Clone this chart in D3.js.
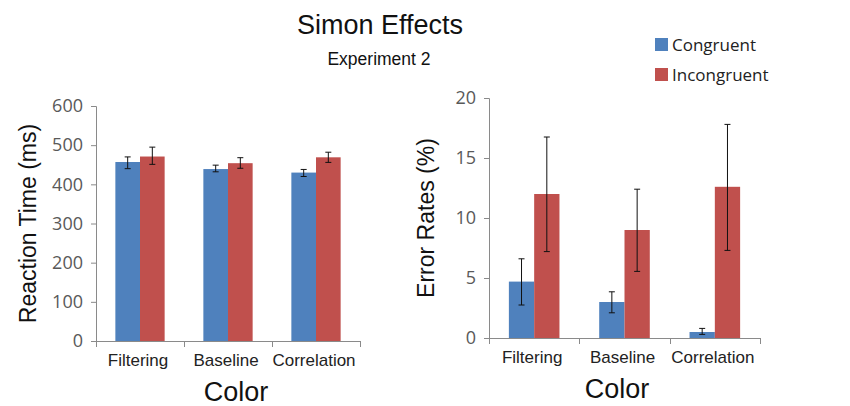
<!DOCTYPE html>
<html>
<head>
<meta charset="utf-8">
<script src="https://cdn.jsdelivr.net/npm/d3@7"></script>
<style>
  body { margin: 0; background: #fff; }
  svg { display: block; font-family: "Liberation Sans", Arial, sans-serif; }
  .axis path, .axis line { stroke: #8a8a8a; }
  .axis text { fill: #595959; }
</style>
</head>
<body>
<div id="chart"></div>
<script>
// categories and series
var categories = ["Filtering", "Baseline", "Correlation"];
var series = ["Congruent", "Incongruent"];
var colors = ["#4f81bd", "#c0504d"];

// reaction time (ms), mean and error bar ends
var rtCongruent = [457, 439, 430];
var rtCongruentLo = [440, 432, 420];
var rtCongruentHi = [470, 449, 438];
var rtIncongruent = [471, 454, 469];
var rtIncongruentLo = [451, 441, 456];
var rtIncongruentHi = [495, 468, 482];
var rtTicks = [0, 100, 200, 300, 400, 500, 600];

// error rates (%)
var erCongruent = [4.7, 3.0, 0.5];
var erCongruentLo = [2.75, 2.1, 0.3];
var erCongruentHi = [6.6, 3.85, 0.8];
var erIncongruent = [12.0, 9.0, 12.6];
var erIncongruentLo = [7.2, 5.55, 7.3];
var erIncongruentHi = [16.75, 12.4, 17.8];
var erTicks = [0, 5, 10, 15, 20];

var svg = d3.select("#chart").append("svg")
    .attr("width", 850)
    .attr("height", 406);

// title
svg.append("text").attr("x", 380).attr("y", 34)
    .attr("text-anchor", "middle").style("font-size", "27px").attr("fill", "#111")
    .text("Simon Effects");
svg.append("text").attr("x", 379).attr("y", 65)
    .attr("text-anchor", "middle").style("font-size", "17.5px").attr("fill", "#111")
    .text("Experiment 2");

// legend
var legend = svg.append("g").attr("transform", "translate(655,38)");
series.forEach(function(s, i) {
    legend.append("rect").attr("x", 0).attr("y", i * 30).attr("width", 13).attr("height", 13)
        .attr("fill", colors[i]);
    legend.append("text").attr("x", 17).attr("y", i * 30 + 13)
        .style("font-family", "'Open Sans', sans-serif").style("font-size", "17px").attr("fill", "#222")
        .text(s);
});

function drawPanel(opt) {
    var rows = categories.map(function(c, i) {
        return {
            cat: c,
            vals: [
                {k: 0, v: opt.c[i], lo: opt.cLo[i], hi: opt.cHi[i]},
                {k: 1, v: opt.inc[i], lo: opt.incLo[i], hi: opt.incHi[i]}
            ]
        };
    });

    var x = d3.scaleBand().domain(categories).range([opt.left, opt.right]).paddingInner(0.44).paddingOuter(0.22);
    var x1 = d3.scaleBand().domain([0, 1]).range([0, x.bandwidth()]);
    var y = d3.scaleLinear().domain([0, opt.max]).range([opt.bottom, opt.top]);

    var g = svg.append("g");

    // bars
    var grp = g.selectAll(".grp").data(rows).enter().append("g")
        .attr("transform", function(d) { return "translate(" + x(d.cat) + ",0)"; });
    grp.selectAll("rect").data(function(d) { return d.vals; }).enter().append("rect")
        .attr("x", function(d) { return x1(d.k); })
        .attr("y", function(d) { return y(d.v); })
        .attr("width", x1.bandwidth())
        .attr("height", function(d) { return y(0) - y(d.v); })
        .attr("fill", function(d) { return colors[d.k]; });

    // error bars
    var eb = grp.selectAll(".eb").data(function(d) { return d.vals; }).enter().append("g")
        .attr("stroke", "#111").attr("stroke-width", 1);
    var cx = function(d) { return x1(d.k) + x1.bandwidth() / 2; };
    eb.append("line").attr("x1", cx).attr("x2", cx)
        .attr("y1", function(d) { return y(d.lo); }).attr("y2", function(d) { return y(d.hi); });
    eb.append("line").attr("x1", function(d) { return cx(d) - 3; }).attr("x2", function(d) { return cx(d) + 3; })
        .attr("y1", function(d) { return y(d.lo); }).attr("y2", function(d) { return y(d.lo); });
    eb.append("line").attr("x1", function(d) { return cx(d) - 3; }).attr("x2", function(d) { return cx(d) + 3; })
        .attr("y1", function(d) { return y(d.hi); }).attr("y2", function(d) { return y(d.hi); });

    // y axis
    var ya = g.append("g").attr("class", "axis")
        .attr("transform", "translate(" + opt.left + ",0)")
        .call(d3.axisLeft(y).tickValues(opt.ticks).tickSize(5).tickPadding(8));
    ya.selectAll("text").style("font-size", "18px").style("font-family", "'Open Sans', sans-serif");

    // x axis with ticks between categories
    var step = x.step();
    var xa = g.append("g").attr("class", "axis");
    xa.append("line").attr("x1", opt.left).attr("x2", opt.right)
        .attr("y1", y(0) + 0.5).attr("y2", y(0) + 0.5);
    var seps = [opt.left].concat(categories.map(function(c) { return x(c) + x.bandwidth() + (step - x.bandwidth()) / 2; }));
    xa.selectAll(".sep").data(seps).enter().append("line")
        .attr("x1", function(d) { return Math.round(d) + 0.5; }).attr("x2", function(d) { return Math.round(d) + 0.5; })
        .attr("y1", y(0)).attr("y2", y(0) + 6);
    g.selectAll(".cat").data(categories).enter().append("text")
        .attr("x", function(d) { return x(d) + x.bandwidth() / 2 - 2; })
        .attr("y", y(0) + 25)
        .attr("text-anchor", "middle").style("font-size", "17px").attr("fill", "#222")
        .text(function(d) { return d; });

    // axis titles
    g.append("text").attr("x", opt.colorX).attr("y", opt.bottom + 60)
        .attr("text-anchor", "middle").style("font-size", "27px").attr("fill", "#111")
        .text("Color");
    g.append("text")
        .attr("transform", "translate(" + opt.titleX + "," + ((opt.top + opt.bottom) / 2) + ") rotate(-90)")
        .attr("text-anchor", "middle").style("font-size", "23px").attr("fill", "#111")
        .text(opt.yTitle);
}

drawPanel({
    left: 96, right: 360, top: 106, bottom: 341, max: 600, ticks: rtTicks,
    c: rtCongruent, cLo: rtCongruentLo, cHi: rtCongruentHi,
    inc: rtIncongruent, incLo: rtIncongruentLo, incHi: rtIncongruentHi,
    yTitle: "Reaction Time (ms)", titleX: 36, colorX: 236
});

drawPanel({
    left: 489, right: 760, top: 98, bottom: 338, max: 20, ticks: erTicks,
    c: erCongruent, cLo: erCongruentLo, cHi: erCongruentHi,
    inc: erIncongruent, incLo: erIncongruentLo, incHi: erIncongruentHi,
    yTitle: "Error Rates (%)", titleX: 434, colorX: 617
});
</script>
</body>
</html>
